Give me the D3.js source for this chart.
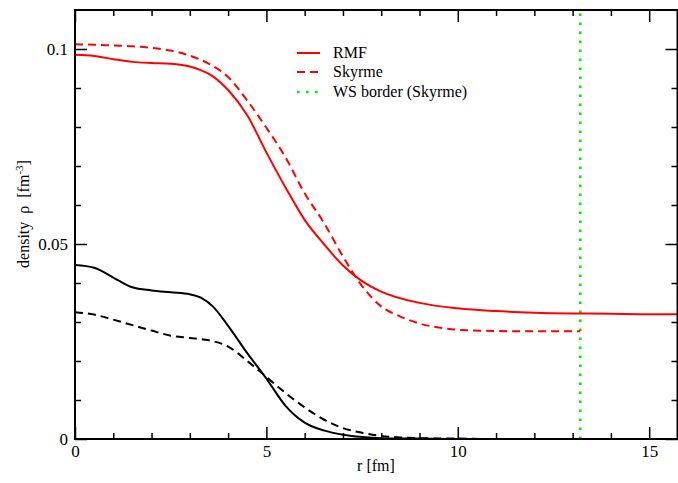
<!DOCTYPE html>
<html><head><meta charset="utf-8">
<script src="https://cdn.jsdelivr.net/npm/d3@7"></script>
<style>
html,body{margin:0;padding:0;background:#fff;}
text{font-family:"Liberation Serif","Times New Roman",serif;}
</style></head>
<body><svg id="c" width="678" height="483"></svg>
<script>
// ---- data ----
const rmfR   = [0,0.5,1,1.5,2,2.5,3,3.3,3.6,4,4.5,5,5.5,6,6.5,7,7.5,8,9,10,11,12,13,14,15,15.8];
const rmfRho = [0.0985,0.0982,0.0974,0.0967,0.0964,0.0962,0.0955,0.0945,0.0930,0.0895,0.0830,0.0735,0.0645,0.0562,0.0500,0.0445,0.0405,0.0378,0.0349,0.0335,0.0328,0.0324,0.0322,0.0321,0.0320,0.0320];
const skyR   = [0,0.5,1,1.5,2,2.5,3,3.5,4,4.5,5,5.5,6,6.5,7,7.5,8,8.5,9,9.5,10,11,12,13.2];
const skyRho = [0.1012,0.1011,0.1009,0.1007,0.1003,0.0996,0.0983,0.0962,0.0928,0.0868,0.0798,0.0722,0.0630,0.0555,0.0468,0.0392,0.0340,0.0314,0.0296,0.0286,0.0280,0.0277,0.0276,0.0276];
const rmfBR   = [0,0.5,1,1.5,2,2.5,3,3.3,3.6,4,4.5,5,5.5,6,6.5,7,7.5,8,9,10,12,14,15.8];
const rmfBRho = [0.0446,0.0439,0.0414,0.0389,0.0381,0.0376,0.0371,0.0362,0.0340,0.0290,0.0220,0.0155,0.0085,0.0042,0.0022,0.0011,0.0005,0.0002,0.0001,0,0,0,0];
const skyBR   = [0,0.5,1,1.5,2,2.5,3,3.5,4,4.5,5,5.5,6,6.5,7,7.5,8,8.5,9,10,11,13.2];
const skyBRho = [0.0325,0.0319,0.0306,0.0292,0.0278,0.0265,0.0259,0.0253,0.0237,0.0200,0.0159,0.0118,0.0081,0.0050,0.0028,0.0016,0.0008,0.0004,0.0002,0.0001,0,0];
const wsBorder = 13.2;
const xMajor = [0,5,10,15];
const xMinor = [1,2,3,4,6,7,8,9,11,12,13,14];
const yMajor = [0,0.05,0.1];
const yMinor = [0.01,0.02,0.03,0.04,0.06,0.07,0.08,0.09];
const legendLabels = ["RMF","Skyrme","WS border (Skyrme)"];

// ---- layout ----
const L=75, R=677.5, T=10, B=439;
const svg=d3.select("#c");
const x=d3.scaleLinear().domain([0,15.74]).range([L,R]);
const y=d3.scaleLinear().domain([0,0.11]).range([B,T]);

svg.append("clipPath").attr("id","pc").append("rect")
  .attr("x",L).attr("y",T).attr("width",R-L).attr("height",B-T);

const g=svg.append("g").attr("clip-path","url(#pc)");
const line=d3.line().x(d=>x(d[0])).y(d=>y(d[1])).curve(d3.curveMonotoneX);
const zipd=(a,b)=>a.map((v,i)=>[v,b[i]]);

// WS border
g.append("line").attr("x1",x(wsBorder)).attr("x2",x(wsBorder)).attr("y1",y(0)).attr("y2",T)
  .attr("stroke","#00ee00").attr("stroke-width",2.6).attr("stroke-dasharray","2.6,6.4");

const series=[
  {d:zipd(skyBR,skyBRho),c:"#000",dash:"8,5"},
  {d:zipd(rmfBR,rmfBRho),c:"#000",dash:null},
  {d:zipd(skyR,skyRho),c:"#ff0000",dash:"8,5"},
  {d:zipd(rmfR,rmfRho),c:"#ff0000",dash:null}
];
series.forEach(s=>{
  g.append("path").attr("d",line(s.d)).attr("fill","none").attr("stroke",s.c)
   .attr("stroke-width",2).attr("stroke-dasharray",s.dash);
});

// ---- axes ----
const fs="17px";
function styleAx(sel){ sel.select(".domain").remove(); sel.selectAll("line").attr("stroke","#000").attr("stroke-width",1.5);
  sel.selectAll("text").attr("font-size",fs).attr("fill","#000").attr("font-family","Liberation Serif"); }
svg.append("g").attr("transform",`translate(0,${B})`)
  .call(d3.axisBottom(x).tickValues(xMajor).tickSize(-12).tickPadding(6).tickFormat(d3.format("d"))).call(styleAx);
svg.append("g").attr("transform",`translate(0,${B})`)
  .call(d3.axisBottom(x).tickValues(xMinor).tickSize(-6).tickFormat("")).call(styleAx);
svg.append("g").attr("transform",`translate(0,${T})`)
  .call(d3.axisTop(x).tickValues(xMajor).tickSize(-12).tickFormat("")).call(styleAx);
svg.append("g").attr("transform",`translate(0,${T})`)
  .call(d3.axisTop(x).tickValues(xMinor).tickSize(-6).tickFormat("")).call(styleAx);
svg.append("g").attr("transform",`translate(${L},0)`)
  .call(d3.axisLeft(y).tickValues(yMajor).tickSize(-12).tickPadding(7).tickFormat(d=>d===0?"0":String(d))).call(styleAx);
svg.append("g").attr("transform",`translate(${L},0)`)
  .call(d3.axisLeft(y).tickValues(yMinor).tickSize(-6).tickFormat("")).call(styleAx);
svg.append("g").attr("transform",`translate(${R},0)`)
  .call(d3.axisRight(y).tickValues(yMajor).tickSize(-12).tickFormat("")).call(styleAx);
svg.append("g").attr("transform",`translate(${R},0)`)
  .call(d3.axisRight(y).tickValues(yMinor).tickSize(-6).tickFormat("")).call(styleAx);

// frame
svg.append("rect").attr("x",L).attr("y",T).attr("width",R-L).attr("height",B-T)
  .attr("fill","none").attr("stroke","#000").attr("stroke-width",2);

// axis titles
svg.append("text").attr("x",376).attr("y",471).attr("text-anchor","middle")
  .attr("font-size","16px").text("r [fm]");
const yt=svg.append("text").attr("transform","translate(29,214) rotate(-90)")
  .attr("text-anchor","middle").attr("font-size","16px").attr("xml:space","preserve").style("white-space","pre");
yt.append("tspan").text("density  ρ  [fm");
yt.append("tspan").attr("font-size","11px").attr("dy","-6").text("-3");
yt.append("tspan").attr("dy","6").text("]");

// legend
const lg=svg.append("g");
const ly=[53,72,92];
lg.append("line").attr("x1",297).attr("x2",320).attr("y1",ly[0]).attr("y2",ly[0]).attr("stroke","#ff0000").attr("stroke-width",2);
lg.append("line").attr("x1",297).attr("x2",320).attr("y1",ly[1]).attr("y2",ly[1]).attr("stroke","#ff0000").attr("stroke-width",2).attr("stroke-dasharray","8,5");
lg.append("line").attr("x1",297).attr("x2",320).attr("y1",ly[2]).attr("y2",ly[2]).attr("stroke","#00ee00").attr("stroke-width",2.6).attr("stroke-dasharray","2.6,6.4");
legendLabels.forEach((t,i)=>{
  lg.append("text").attr("x",333).attr("y",ly[i]+5).attr("font-size","16px").text(t);
});
</script></body></html>
